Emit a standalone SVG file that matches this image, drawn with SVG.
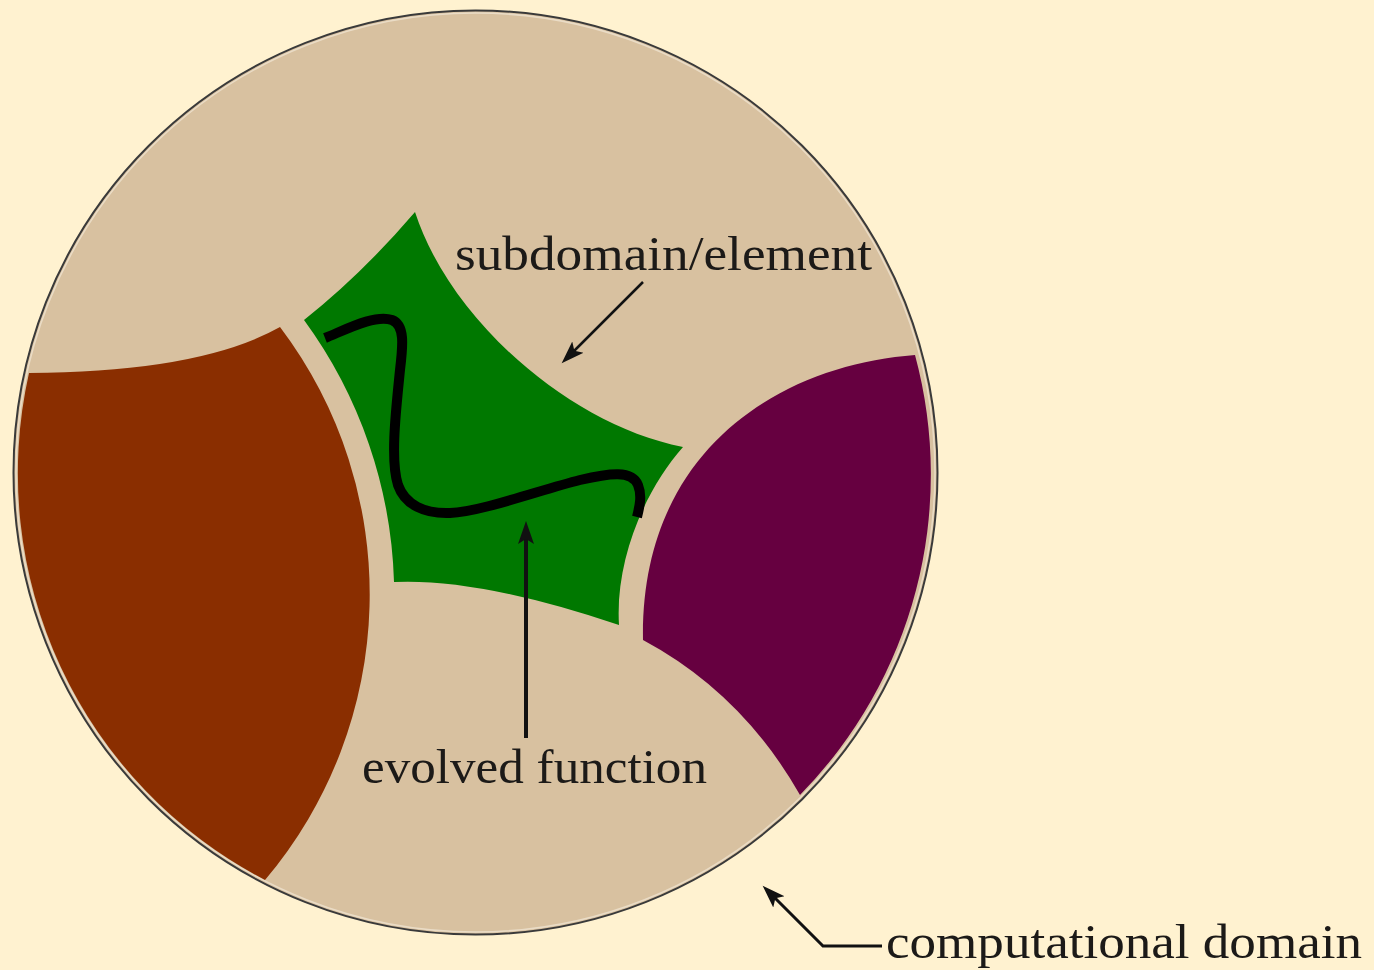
<svg xmlns="http://www.w3.org/2000/svg" width="1374" height="970" viewBox="0 0 1374 970">
  <defs>
    <style>
      .lbl { font-family: "Liberation Serif", "DejaVu Serif", serif; font-size: 49px; fill: #1c1a18; }
      .conn { fill: none; stroke: #111; stroke-linecap: butt; stroke-linejoin: miter; }
    </style>
    <marker id="ah" markerUnits="userSpaceOnUse" markerWidth="30" markerHeight="24" viewBox="0 0 30 24" refX="14" refY="12" orient="auto">
      <path d="M0,4 L23,12 L0,20 L5,12 Z" fill="#111"/>
    </marker>
  </defs>
  <rect x="0" y="0" width="1374" height="970" fill="#FFF2D0"/>

  <g id="domain">
    <circle cx="475.5" cy="472.5" r="462" fill="#D8C1A0" stroke="#3a3a3a" stroke-width="2"/>
    <circle cx="475.5" cy="472.5" r="459.5" fill="none" stroke="#EADCC6" stroke-width="1.5"/>
  </g>

  <g id="brown-element">
    <path d="M29,373 Q200,372 280,327 A442.6,442.6 0 0 1 265,880 A458,458 0 0 1 29,373 Z" fill="#8A2E00"/>
  </g>

  <g id="purple-element">
    <path d="M915,355 C780,365 640,450 643,640 Q742,693 800,795 A458,458 0 0 0 915,355 Z" fill="#660040"/>
  </g>

  <g id="green-element">
    <path d="M415,212 C450,320 570,425 683,447 C645,490 615,560 619,625 Q480,578 394,582 A466,466 0 0 0 304,320 Q362,274 415,212 Z" fill="#007800"/>
  </g>

  <g id="evolved-curve">
    <path d="M325,338 C345,330 375,314 392,320 C405,325 403,345 400,370 C396,410 390,460 398,485 C405,505 425,514 450,513 C480,512 540,490 580,480 C610,473 632,470 638,485 C642,495 640,505 637,517" fill="none" stroke="#000" stroke-width="10" stroke-linejoin="round"/>
  </g>

  <g id="connectors">
    <line class="conn" x1="643" y1="282" x2="568" y2="357" stroke-width="2.5" marker-end="url(#ah)"/>
    <line class="conn" x1="526" y1="738" x2="526" y2="530" stroke-width="4" marker-end="url(#ah)"/>
    <polyline class="conn" points="882,946 823,946 769,892" stroke-width="3" marker-end="url(#ah)"/>
  </g>

  <g id="labels">
    <text class="lbl" x="455" y="270" textLength="417" lengthAdjust="spacingAndGlyphs">subdomain/element</text>
    <text class="lbl" x="362" y="783" textLength="345" lengthAdjust="spacingAndGlyphs">evolved function</text>
    <text class="lbl" x="886" y="958" textLength="476" lengthAdjust="spacingAndGlyphs">computational domain</text>
  </g>
</svg>
